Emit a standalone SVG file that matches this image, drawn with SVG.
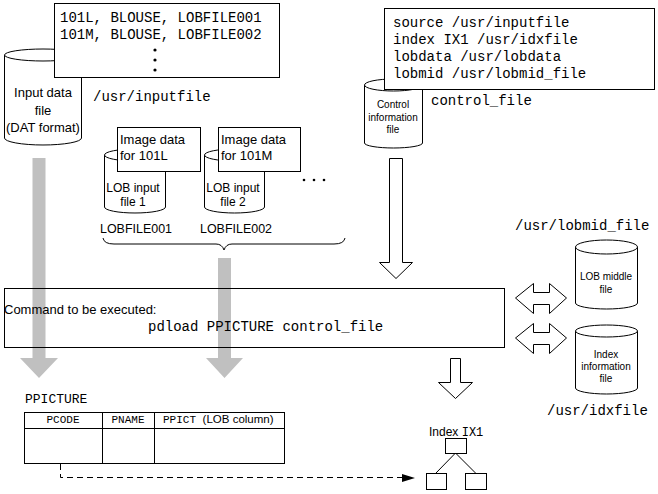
<svg xmlns="http://www.w3.org/2000/svg" width="658" height="494" viewBox="0 0 658 494">
<style>
.ln{fill:none;stroke:#000;stroke-width:1}
.wf{fill:#fff;stroke:#000;stroke-width:1}
.mono{font-family:"Liberation Mono","DejaVu Sans Mono",monospace;fill:#000}
.m14{font-size:14px}
.m13{font-size:13px}
.m12{font-size:12px}
.m11{font-size:11px}
.sans{font-family:"Liberation Sans",Arial,sans-serif;fill:#000}
.gray{fill:#c0c0c0;stroke:none}
.dash{fill:none;stroke:#000;stroke-width:1;stroke-dasharray:6,4}
</style>

<g id="input-data-file">
<path class="wf" d="M4.5,55 L4.5,138 A38.5,7 0 0 0 81.5,138 L81.5,55"/>
<ellipse class="wf" cx="43" cy="55" rx="38.5" ry="6"/>
<text class="sans" font-size="13" x="43" y="97" text-anchor="middle">Input data</text>
<text class="sans" font-size="13" x="43" y="115" text-anchor="middle">file</text>
<text class="sans" font-size="13" x="43" y="132" text-anchor="middle">(DAT format)</text>
</g>

<g id="input-data-content">
<rect class="wf" x="54.5" y="3.5" width="225" height="74"/>
<text class="mono m14" x="60" y="22">101L, BLOUSE, LOBFILE001</text>
<text class="mono m14" x="60" y="39">101M, BLOUSE, LOBFILE002</text>
<circle cx="155" cy="50" r="1.6"/>
<circle cx="155" cy="60" r="1.6"/>
<circle cx="155" cy="70" r="1.6"/>
<text class="mono m14" x="93" y="101">/usr/inputfile</text>
</g>

<g id="control-file">
<path class="wf" d="M364.5,85 L364.5,143 A29,5 0 0 0 422.5,143 L422.5,85"/>
<ellipse class="wf" cx="393.5" cy="85" rx="29" ry="6"/>
<text class="sans" font-size="10" x="393" y="108" text-anchor="middle">Control</text>
<text class="sans" font-size="10" x="393" y="121" text-anchor="middle">information</text>
<text class="sans" font-size="10" x="393" y="133" text-anchor="middle">file</text>
<text class="mono m14" x="431" y="105">control_file</text>
</g>

<g id="control-content">
<rect class="wf" x="384.5" y="8.5" width="270" height="81"/>
<text class="mono m14" x="393" y="27">source /usr/inputfile</text>
<text class="mono m14" x="393" y="44">index IX1 /usr/idxfile</text>
<text class="mono m14" x="393" y="61">lobdata /usr/lobdata</text>
<text class="mono m14" x="393" y="78">lobmid /usr/lobmid_file</text>
</g>

<g id="lob-input-1">
<path class="wf" d="M104.5,155 L104.5,207 A30.5,6 0 0 0 165.5,207 L165.5,155"/>
<ellipse class="wf" cx="135" cy="155" rx="30.5" ry="6"/>
<rect class="wf" x="117.5" y="127.5" width="83" height="44"/>
<text class="sans" font-size="13" x="120" y="144">Image data</text>
<text class="sans" font-size="13" x="120" y="160">for 101L</text>
<text class="sans" font-size="12" x="133" y="192" text-anchor="middle">LOB input</text>
<text class="sans" font-size="12" x="133" y="206" text-anchor="middle">file 1</text>
<text class="sans" font-size="12.5" x="100" y="233" textLength="72" lengthAdjust="spacingAndGlyphs">LOBFILE001</text>
</g>

<g id="lob-input-2">
<path class="wf" d="M204.5,155 L204.5,207 A30,6 0 0 0 264.5,207 L264.5,155"/>
<ellipse class="wf" cx="234.5" cy="155" rx="30" ry="6"/>
<rect class="wf" x="218.5" y="127.5" width="82" height="44"/>
<text class="sans" font-size="13" x="221" y="144">Image data</text>
<text class="sans" font-size="13" x="221" y="160">for 101M</text>
<text class="sans" font-size="12" x="233" y="192" text-anchor="middle">LOB input</text>
<text class="sans" font-size="12" x="233" y="206" text-anchor="middle">file 2</text>
<text class="sans" font-size="12.5" x="200" y="233" textLength="72" lengthAdjust="spacingAndGlyphs">LOBFILE002</text>
</g>

<g id="more-files">
<circle cx="304" cy="180" r="1.3"/>
<circle cx="314" cy="180" r="1.3"/>
<circle cx="324" cy="180" r="1.3"/>
<path class="ln" d="M103,238 Q104,244 114,244 L216,244 Q222,244 224,250 Q226,244 232,244 L334,244 Q344,244 345,238"/>
</g>

<g id="lob-middle-file">
<path class="wf" d="M575.5,247 L575.5,303 A31,6 0 0 0 637.5,303 L637.5,247"/>
<ellipse class="wf" cx="606.5" cy="247" rx="31" ry="7"/>
<text class="sans" font-size="10" x="606" y="280" text-anchor="middle">LOB middle</text>
<text class="sans" font-size="10" x="606" y="293" text-anchor="middle">file</text>
<text class="mono m14" x="515" y="230">/usr/lobmid_file</text>
</g>

<g id="index-information-file">
<path class="wf" d="M575.5,331 L575.5,388 A31,6 0 0 0 637.5,388 L637.5,331"/>
<ellipse class="wf" cx="606.5" cy="331" rx="31" ry="6"/>
<text class="sans" font-size="10" x="606" y="358" text-anchor="middle">Index</text>
<text class="sans" font-size="10" x="606" y="370" text-anchor="middle">information</text>
<text class="sans" font-size="10" x="606" y="382" text-anchor="middle">file</text>
<text class="mono m14" x="547" y="415">/usr/idxfile</text>
</g>

<g id="connectors">
<polygon class="gray" points="32.5,158 45.5,158 45.5,358 58,358 39,378 20,358 32.5,358"/>
<polygon class="gray" points="218,258 231,258 231,358 243,358 224.5,378 206,358 218,358"/>
<polygon class="wf" points="389.5,158.5 402.5,158.5 402.5,262.5 412.5,262.5 396,278.5 379.5,262.5 389.5,262.5"/>
<polygon class="wf" points="515.5,298 533.5,283.5 533.5,292.5 549.5,292.5 549.5,283.5 566.5,298 549.5,313.5 549.5,304.5 533.5,304.5 533.5,313.5"/>
<polygon class="wf" points="515.5,338 533.5,323.5 533.5,332.5 549.5,332.5 549.5,323.5 566.5,338 549.5,353.5 549.5,344.5 533.5,344.5 533.5,353.5"/>
<polygon class="wf" points="450.5,358.5 460.5,358.5 460.5,382.5 472.5,382.5 455.5,398.5 438.5,382.5 450.5,382.5"/>
<path class="dash" d="M60.5,464 L60.5,477.5 L403,477.5"/>
<path d="M402,474 L415,478 L402,482 z" fill="#000"/>
<path class="ln" d="M455.5,453 L436,473 M455.5,453 L475.5,473"/>
</g>

<g id="command">
<rect class="ln" x="4.5" y="288.5" width="500" height="59"/>
<text class="sans" font-size="13" x="4" y="314">Command to be executed:</text>
<text class="mono m14" x="148" y="331">pdload PPICTURE control_file</text>
</g>

<g id="table-ppicture">
<text class="mono m13" x="25" y="403">PPICTURE</text>
<rect class="ln" x="24.5" y="412.5" width="260" height="51"/>
<path class="ln" d="M24.5,428.5 L284.5,428.5 M102.5,412.5 L102.5,463.5 M154.5,412.5 L154.5,463.5"/>
<text class="mono m11" x="63" y="423" text-anchor="middle">PCODE</text>
<text class="mono m11" x="128" y="423" text-anchor="middle">PNAME</text>
<text x="163" y="423"><tspan class="mono m11">PPICT </tspan><tspan class="sans" font-size="11.5">(LOB column)</tspan></text>
</g>

<g id="index-ix1">
<text x="429" y="436"><tspan class="sans" font-size="12">Index </tspan><tspan class="mono m12">IX1</tspan></text>
<rect class="wf" x="445.5" y="438.5" width="21" height="15"/>
<rect class="wf" x="426.5" y="473.5" width="20" height="16"/>
<rect class="wf" x="465.5" y="473.5" width="21" height="16"/>
</g>
</svg>
